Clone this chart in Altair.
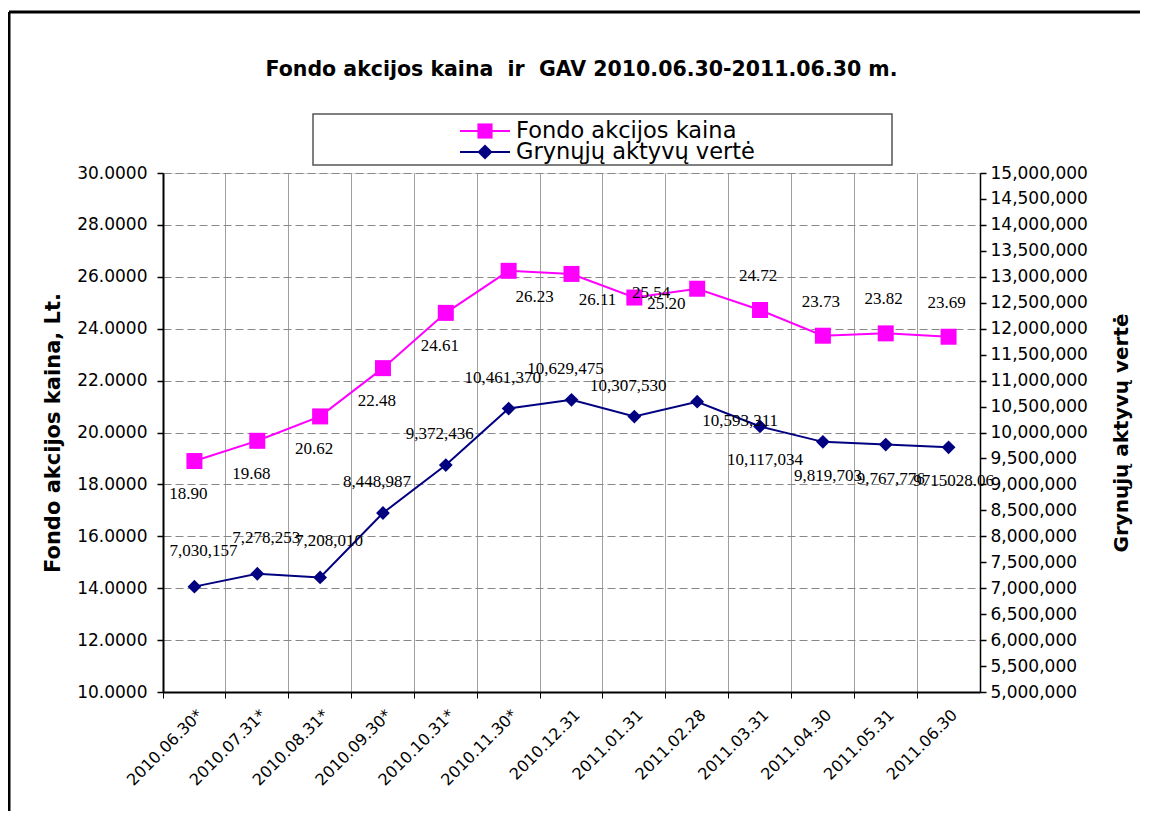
import altair as alt
import pandas as pd

dates = ["2010.06.30*", "2010.07.31*", "2010.08.31*", "2010.09.30*", "2010.10.31*",
         "2010.11.30*", "2010.12.31", "2011.01.31", "2011.02.28", "2011.03.31",
         "2011.04.30", "2011.05.31", "2011.06.30"]
price = [18.90, 19.68, 20.62, 22.48, 24.61, 26.23, 26.11, 25.20, 25.54, 24.72, 23.73, 23.82, 23.69]
gav = [7030157, 7278253, 7208010, 8448987, 9372436, 10461370, 10629475, 10307530,
       10593311, 10117034, 9819703, 9767776, 9715028.06]
gav_labels = ["7,030,157", "7,278,253", "7,208,010", "8,448,987", "9,372,436", "10,461,370",
              "10,629,475", "10,307,530", "10,593,311", "10,117,034", "9,819,703", "9,767,776",
              "9715028.06"]
series_names = ["Fondo akcijos kaina", "Grynųjų aktyvų vertė"]
series_colors = ["#FF00FF", "#000080"]
left_ticks = list(range(10, 31, 2))
right_ticks = list(range(5000000, 15000001, 500000))
title_text = "Fondo akcijos kaina\u00a0 ir\u00a0 GAV 2010.06.30-2011.06.30 m."

df = pd.DataFrame({
    "date": dates,
    "i": list(range(len(dates))),
    "price": price,
    "gav": gav,
    "plabel": [f"{v:.2f}" for v in price],
    "glabel": gav_labels,
})
legend_df = pd.DataFrame({"series": series_names})

W, H = 817, 519
SANS = "DejaVu Sans"
SERIF = "Liberation Serif"

x_enc = alt.X("date:N", sort=dates,
              scale=alt.Scale(type="band", paddingInner=0, paddingOuter=0),
              axis=alt.Axis(title=None, labelAngle=315, labelAlign="right", labelBaseline="middle",
                            labelFont=SANS, labelFontSize=16, labelColor="black",
                            labelPadding=14, labelOffset=6, labelOverlap=False, bandPosition=0,
                            grid=True, gridColor="#a0a0a0", gridWidth=1,
                            tickSize=6, tickColor="black", domainColor="black", domainWidth=2))

y_price = alt.Y("price:Q",
                scale=alt.Scale(domain=[10, 30], nice=False, zero=False),
                axis=alt.Axis(orient="left", values=left_ticks, format=".4f",
                              title="Fondo akcijos kaina, Lt.", titleFont=SANS, titleFontSize=21,
                              titleFontWeight="bold", titleColor="black", titlePadding=13,
                              labelFont=SANS, labelFontSize=17, labelColor="black", labelPadding=10,
                              tickSize=6, tickColor="black", tickWidth=1.5,
                              domainColor="black", domainWidth=2,
                              grid=True, gridDash=[8, 4], gridColor="#888888", gridWidth=1))

y_gav = alt.Y("gav:Q",
              scale=alt.Scale(domain=[5000000, 15000000], nice=False, zero=False),
              axis=alt.Axis(orient="right", values=right_ticks, format=",d",
                            title="Grynųjų aktyvų vertė", titleFont=SANS, titleFontSize=20,
                            titleFontWeight="bold", titleColor="black", titlePadding=24,
                            titleAngle=270, titleBaseline="top",
                            labelFont=SANS, labelFontSize=17, labelColor="black", labelPadding=4,
                            tickSize=6, tickColor="black", tickWidth=1.5,
                            domainColor="black", domainWidth=1.5, grid=False))

base = alt.Chart(df)

def text_group(field, y, lo, hi, dx, dy):
    return base.transform_filter(f"datum.i >= {lo} && datum.i <= {hi}").mark_text(
        font=SERIF, fontSize=17, color="black", dx=dx, dy=dy, baseline="middle", align="center"
    ).encode(x=x_enc, y=y, text=f"{field}:N")

price_layer = alt.layer(
    base.mark_line(color=series_colors[0], strokeWidth=2).encode(x=x_enc, y=y_price),
    base.mark_point(shape="square", filled=True, size=256, color=series_colors[0], opacity=1).encode(x=x_enc, y=y_price),
    text_group("plabel", y_price, 0, 4, -6, 33),
    text_group("plabel", y_price, 5, 6, 26, 26),
    text_group("plabel", y_price, 7, 7, 32, 6),
    text_group("plabel", y_price, 8, 8, -46, 4),
    text_group("plabel", y_price, 9, 12, -2, -34),
)

gav_layer = alt.layer(
    base.mark_line(color=series_colors[1], strokeWidth=2).encode(x=x_enc, y=y_gav),
    base.mark_point(shape="diamond", filled=True, size=190, color=series_colors[1], opacity=1).encode(x=x_enc, y=y_gav),
    text_group("glabel", y_gav, 0, 2, 9, -36),
    text_group("glabel", y_gav, 3, 7, -6, -31),
    text_group("glabel", y_gav, 8, 8, 43, 19),
    text_group("glabel", y_gav, 9, 12, 5, 34),
)

# legend (box, sample lines, symbols, labels); point scale puts the two rows 21px apart
leg_y = alt.Y("series:N", sort=series_names,
              scale=alt.Scale(domain=series_names, range=[-52.5, -10.5]), axis=None)
leg_color = alt.Color("series:N", scale=alt.Scale(domain=series_names, range=series_colors), legend=None)
leg_base = alt.Chart(legend_df)
legend_layer = alt.layer(
    leg_base.mark_rule(strokeWidth=2).encode(x=alt.value(297), x2=alt.value(347), y=leg_y, color=leg_color),
    leg_base.mark_point(filled=True, size=230, opacity=1).encode(
        x=alt.value(322), y=leg_y, color=leg_color,
        shape=alt.Shape("series:N", scale=alt.Scale(domain=series_names, range=["square", "diamond"]), legend=None)),
    leg_base.mark_text(font=SANS, fontSize=22.5, color="black", align="left", baseline="middle").encode(
        x=alt.value(353), y=leg_y, text="series:N"),
)

one = alt.Chart(alt.Data(values=[{"k": 1}]))
legend_box = one.mark_rect(fill="white", stroke="#555555", strokeWidth=1.5).encode(
    x=alt.value(150), x2=alt.value(729), y=alt.value(-59), y2=alt.value(-8))
frame_left = one.mark_rule(color="black", strokeWidth=3).encode(
    x=alt.value(-154), y=alt.value(-161), y2=alt.value(700))
frame_top = one.mark_rule(color="black", strokeWidth=3).encode(
    x=alt.value(-154), x2=alt.value(1000), y=alt.value(-161))

chart = alt.layer(
    frame_left, frame_top, legend_box, legend_layer, price_layer, gav_layer
).resolve_scale(y="independent").properties(
    width=W, height=H,
    title=alt.TitleParams(title_text,
                          font=SANS, fontSize=20.5, fontWeight="bold", color="black",
                          anchor="middle", dx=10, offset=0, dy=70),
    autosize=alt.AutoSizeParams(type="none"),
    padding={"left": 155, "top": 165, "right": 160, "bottom": 119},
).configure_view(stroke="black", strokeWidth=2).configure(background="white")

chart.save("out.html", embed_options={"renderer": "svg", "actions": False})
